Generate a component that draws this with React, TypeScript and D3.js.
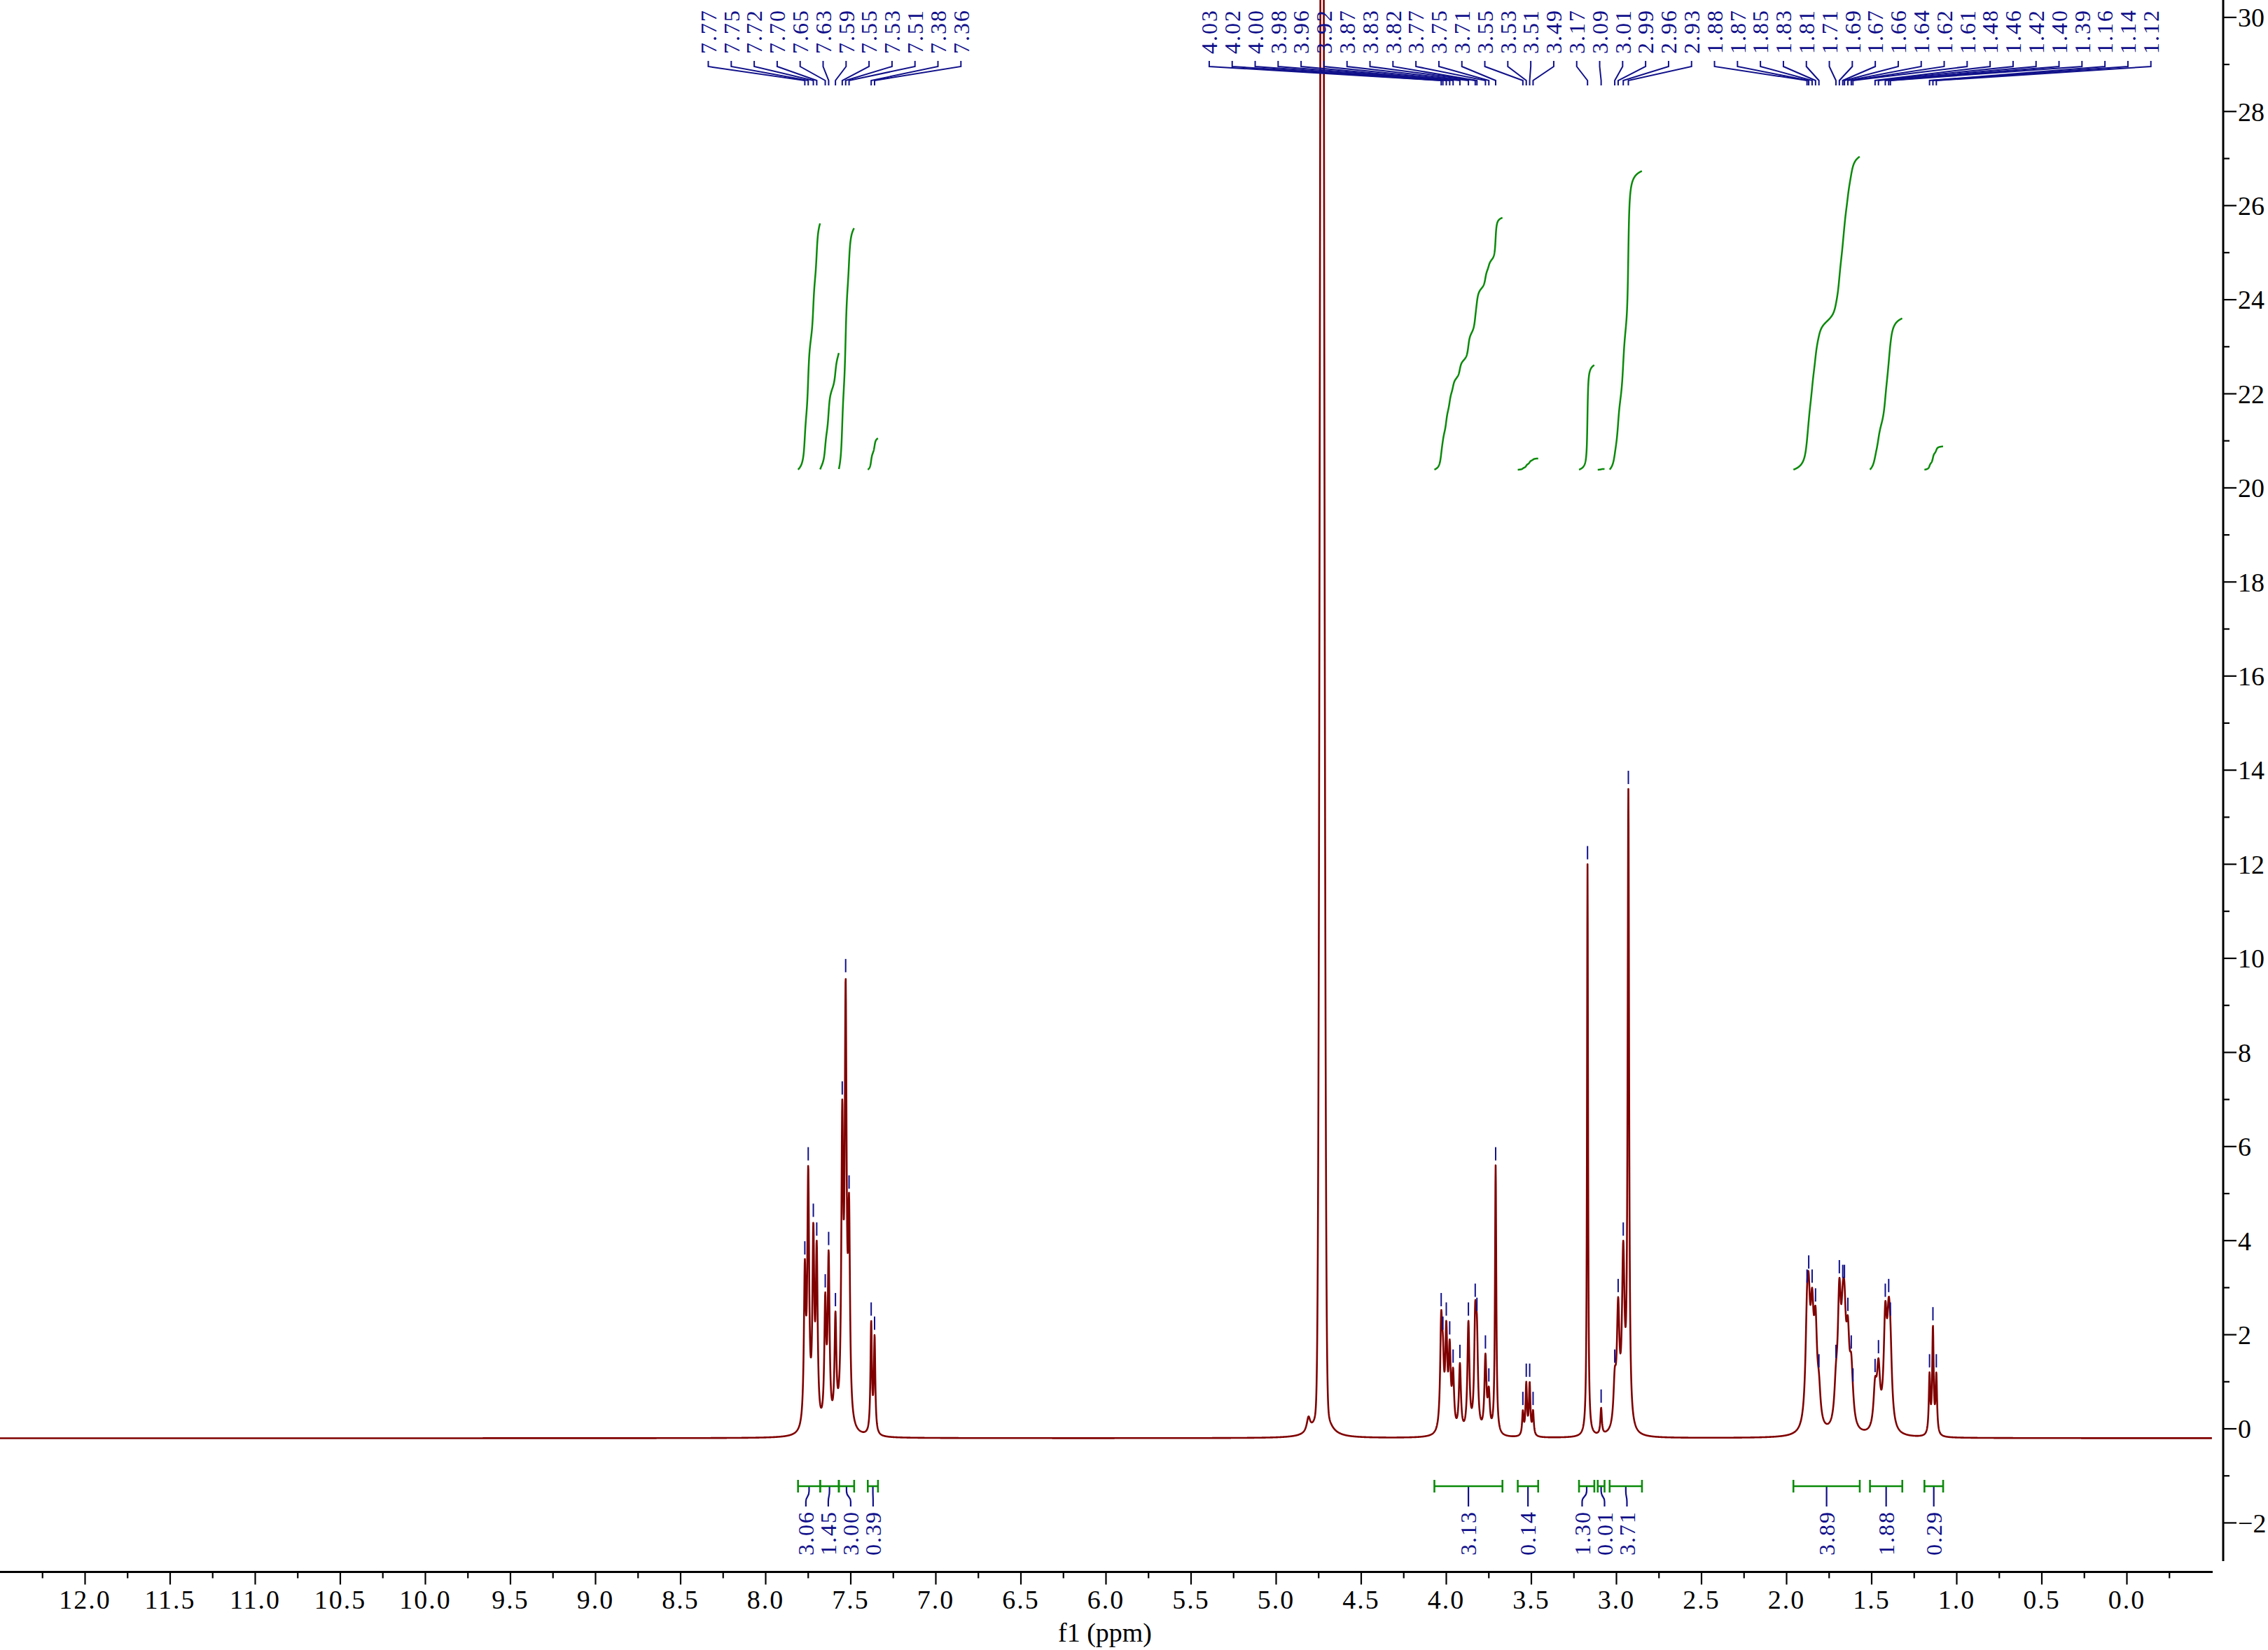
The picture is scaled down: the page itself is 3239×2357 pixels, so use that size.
import React, { useMemo } from "react";
import * as d3 from "d3";

// ---------- data ----------
// labelled peaks (ppm), apparent heights, half-widths (ppm)
const peakPpm = [
  7.77, 7.75, 7.72, 7.7, 7.65, 7.63, 7.59, 7.55, 7.53, 7.51, 7.38, 7.36,
  4.03, 4.02, 4.0, 3.98, 3.96, 3.92, 3.87, 3.83, 3.82, 3.77, 3.75, 3.71,
  3.55, 3.53, 3.51, 3.49,
  3.17, 3.09, 3.01, 2.99, 2.96, 2.93,
  1.88, 1.87, 1.85, 1.83, 1.81, 1.71, 1.69, 1.67, 1.66, 1.64, 1.62, 1.61,
  1.48, 1.46, 1.42, 1.4, 1.39, 1.16, 1.14, 1.12,
];
const peakHeight = [
  3.6, 5.6, 4.4, 4.0, 2.9, 3.8, 2.5, 7.0, 9.6, 5.0, 2.3, 2.0,
  2.5, 2.0, 2.3, 1.9, 1.3, 1.4, 2.3, 2.7, 2.4, 1.6, 0.9, 5.6,
  0.4, 1.0, 1.0, 0.4,
  12.0, 0.45, 1.3, 2.8, 4.0, 13.6,
  3.0, 3.3, 3.0, 2.6, 1.2, 1.4, 3.2, 3.1, 3.1, 2.4, 1.6, 0.9,
  1.1, 1.5, 2.7, 2.8, 2.3, 1.2, 2.2, 1.2,
];
const peakWidth = [
  0.0065, 0.0065, 0.0065, 0.0065, 0.0065, 0.0065, 0.0065, 0.0065, 0.0065, 0.0065, 0.005, 0.005,
  0.007, 0.007, 0.007, 0.007, 0.007, 0.007, 0.007, 0.007, 0.007, 0.007, 0.007, 0.0045,
  0.005, 0.005, 0.005, 0.005,
  0.0035, 0.005, 0.009, 0.009, 0.009, 0.005,
  0.011, 0.011, 0.011, 0.011, 0.011, 0.011, 0.011, 0.011, 0.011, 0.011, 0.011, 0.011,
  0.011, 0.011, 0.011, 0.011, 0.011, 0.005, 0.005, 0.005,
];

// unlabelled signals (solvent HDO)
const extraPpm = [4.73, 4.73, 4.81];
const extraHeight = [45, 1.0, 0.3];
const extraWidth = [0.011, 0.035, 0.012];
const extraShape = ["g", "l", "l"];

const baselineLevel = -0.2;

// integrations
const intFrom = [7.81, 7.68, 7.57, 7.4, 4.07, 3.58, 3.22, 3.11, 3.04, 1.96, 1.51, 1.19];
const intTo = [7.68, 7.57, 7.48, 7.34, 3.67, 3.46, 3.13, 3.07, 2.85, 1.57, 1.32, 1.08];
const intValue = [3.06, 1.45, 3.0, 0.39, 3.13, 0.14, 1.3, 0.01, 3.71, 3.89, 1.88, 0.29];

// axis ticks
const xMajorTicks = d3.range(0, 25).map((i) => 12 - i * 0.5);
const xMinorTicks = d3.range(0, 26).map((i) => 12.25 - i * 0.5).filter((v) => v >= -0.3);
const yMajorTicks = d3.range(-2, 31, 2);
const yMinorTicks = d3.range(-1, 30, 2);

// ---------- layout ----------
const W = 3239;
const H = 2357;
const NAVY = "#10108a";
const RED = "#800000";
const GREEN = "#0a8a0a";
const FONT = "'Liberation Serif', 'DejaVu Serif', serif";

function lor(x: number, c: number, w: number) {
  const d = (x - c) / w;
  return 1 / (1 + d * d);
}
function gau(x: number, c: number, s: number) {
  const d = (x - c) / s;
  return Math.exp(-0.5 * d * d);
}

// spread labels to a minimum spacing (pool adjacent violators)
function spread(targets: number[], gap: number): number[] {
  const u = targets.map((t, i) => t - i * gap);
  const blocks: { sum: number; n: number }[] = [];
  for (const v of u) {
    blocks.push({ sum: v, n: 1 });
    while (blocks.length > 1) {
      const b = blocks[blocks.length - 1];
      const a = blocks[blocks.length - 2];
      if (a.sum / a.n > b.sum / b.n) {
        blocks.pop();
        a.sum += b.sum;
        a.n += b.n;
      } else break;
    }
  }
  const out: number[] = [];
  for (const b of blocks) for (let k = 0; k < b.n; k++) out.push(b.sum / b.n);
  return out.map((v, i) => v + i * gap);
}

export default function App() {
  const x = d3.scaleLinear().domain([12.5, -0.5]).range([0, 3159]);
  const y = d3.scaleLinear().domain([-2.8, 30.37]).range([2229.2, 0]);

  const model = useMemo(() => {
    const extra = (p: number) => {
      let s = 0;
      for (let j = 0; j < extraPpm.length; j++) {
        s +=
          extraHeight[j] *
          (extraShape[j] === "g" ? gau(p, extraPpm[j], extraWidth[j]) : lor(p, extraPpm[j], extraWidth[j]));
      }
      return s;
    };
    const amps = peakHeight.map((h) => h - baselineLevel);
    const target = peakHeight.map((h) => h);
    for (let it = 0; it < 100; it++) {
      const cur = peakPpm.map((p) => {
        let s = baselineLevel + extra(p);
        for (let j = 0; j < peakPpm.length; j++) s += amps[j] * lor(p, peakPpm[j], peakWidth[j]);
        return s;
      });
      for (let i = 0; i < amps.length; i++) {
        amps[i] = Math.max(0.05, amps[i] + 0.4 * (target[i] - cur[i]));
      }
    }
    const spec = (p: number) => {
      let s = baselineLevel + extra(p);
      for (let j = 0; j < peakPpm.length; j++) s += amps[j] * lor(p, peakPpm[j], peakWidth[j]);
      return s;
    };
    const pts: [number, number][] = [];
    for (let p = 12.5; p >= -0.5; p -= 0.0012) pts.push([p, spec(p)]);
    return { spec, pts };
  }, []);

  const line = d3
    .line<[number, number]>()
    .x((d) => x(d[0]))
    .y((d) => y(d[1]));

  // integral curves
  const intBaseY = 671;
  const intUnit = 115;
  const integrals = intFrom.map((a, k) => {
    const b = intTo[k];
    const pts: [number, number][] = [];
    let cum = 0;
    const raw: [number, number][] = [];
    for (let p = a; p >= b; p -= 0.0008) {
      cum += Math.max(0, model.spec(p) - baselineLevel);
      raw.push([p, cum]);
    }
    const total = cum || 1;
    for (const [p, c] of raw) pts.push([x(p), intBaseY - (intValue[k] * intUnit * c) / total]);
    return pts;
  });
  const intLine = d3
    .line<[number, number]>()
    .x((d) => d[0])
    .y((d) => d[1]);

  // top peak-label groups
  const gap = 32.8;
  const peakX = peakPpm.map((p) => x(p));
  const groupA = peakPpm.map((p, i) => i).filter((i) => peakPpm[i] > 5);
  const groupB = peakPpm.map((p, i) => i).filter((i) => peakPpm[i] < 5);
  const labelX: number[] = new Array(peakPpm.length);
  [groupA, groupB].forEach((g) => {
    const pos = spread(g.map((i) => peakX[i]), gap);
    g.forEach((i, k) => (labelX[i] = pos[k]));
  });

  // integral label positions
  const intCenter = intFrom.map((a, k) => x((a + intTo[k]) / 2));
  const intLabelX = spread(intCenter, 32);
  const bracketY = 2123;

  const axisY = 2245.5;
  const yAxisX = 3175;

  return (
    <svg
      width={W}
      height={H}
      style={{ position: "absolute", left: 0, top: 0, background: "#fff" }}
      fontFamily={FONT}
    >
      <rect x={0} y={0} width={W} height={H} fill="#fff" />

      {/* integral curves */}
      {integrals.map((pts, k) => (
        <path key={"ic" + k} d={intLine(pts) || ""} fill="none" stroke={GREEN} strokeWidth={2.5} />
      ))}

      {/* spectrum */}
      <path d={line(model.pts) || ""} fill="none" stroke={RED} strokeWidth={2.6} strokeLinejoin="round" />

      {/* peak markers */}
      {peakPpm.map((p, i) => {
        const yt = y(model.spec(p));
        return <line key={"pm" + i} x1={x(p)} x2={x(p)} y1={yt - 26} y2={yt - 7} stroke={NAVY} strokeWidth={2} />;
      })}

      {/* top peak labels */}
      {peakPpm.map((p, i) => {
        const lx = labelX[i];
        const px = peakX[i];
        return (
          <g key={"pl" + i}>
            <polyline
              points={`${lx},87 ${lx},95 ${px},115 ${px},122`}
              fill="none"
              stroke={NAVY}
              strokeWidth={2}
            />
            <text
              transform={`translate(${lx},77) rotate(-90)`}
              fontSize={32}
              letterSpacing={2}
              dy="0.35em"
              fill={NAVY}
            >
              {p.toFixed(2)}
            </text>
          </g>
        );
      })}

      {/* integration brackets & labels */}
      {intFrom.map((a, k) => {
        const x1 = x(a);
        const x2 = x(intTo[k]);
        const cx = intCenter[k];
        const lx = intLabelX[k];
        const conn = `M${cx},${bracketY} L${cx},${bracketY + 7} C${cx},${bracketY + 16} ${lx},${bracketY + 14} ${lx},${bracketY + 22} L${lx},${bracketY + 29}`;
        return (
          <g key={"ib" + k}>
            <path d={conn} fill="none" stroke={NAVY} strokeWidth={2.2} />
            <line x1={x1} x2={x2} y1={bracketY} y2={bracketY} stroke={GREEN} strokeWidth={2.6} />
            <line x1={x1} x2={x1} y1={bracketY - 9} y2={bracketY + 9} stroke={GREEN} strokeWidth={2.6} />
            <line x1={x2} x2={x2} y1={bracketY - 9} y2={bracketY + 9} stroke={GREEN} strokeWidth={2.6} />
            <text
              transform={`translate(${lx},${bracketY + 35}) rotate(-90)`}
              fontSize={32}
              letterSpacing={2}
              textAnchor="end"
              dy="0.35em"
              fill={NAVY}
            >
              {intValue[k].toFixed(2)}
            </text>
          </g>
        );
      })}

      {/* x axis */}
      <line x1={0} x2={3160} y1={axisY} y2={axisY} stroke="#000" strokeWidth={3} />
      {xMajorTicks.map((t) => (
        <g key={"xt" + t}>
          <line x1={x(t)} x2={x(t)} y1={axisY} y2={axisY + 18} stroke="#000" strokeWidth={2.2} />
          <text x={x(t)} y={2298} fontSize={38} textAnchor="middle" letterSpacing={2} fill="#000">
            {d3.format(".1f")(t)}
          </text>
        </g>
      ))}
      {xMinorTicks.map((t) => (
        <line key={"xm" + t} x1={x(t)} x2={x(t)} y1={axisY} y2={axisY + 9} stroke="#000" strokeWidth={2.2} />
      ))}
      <text x={1578} y={2345} fontSize={38} textAnchor="middle" fill="#000">
        f1 (ppm)
      </text>

      {/* y axis (right) */}
      <line x1={yAxisX} x2={yAxisX} y1={0} y2={2230} stroke="#000" strokeWidth={3} />
      {yMajorTicks.map((t) => (
        <g key={"yt" + t}>
          <line x1={yAxisX} x2={yAxisX + 19} y1={y(t)} y2={y(t)} stroke="#000" strokeWidth={2.2} />
          <text x={yAxisX + 21} y={y(t)} dy="0.35em" fontSize={38} fill="#000">
            {t < 0 ? "\u2212" + Math.abs(t) : String(t)}
          </text>
        </g>
      ))}
      {yMinorTicks.map((t) => (
        <line key={"ym" + t} x1={yAxisX} x2={yAxisX + 9} y1={y(t)} y2={y(t)} stroke="#000" strokeWidth={2.2} />
      ))}
    </svg>
  );
}
